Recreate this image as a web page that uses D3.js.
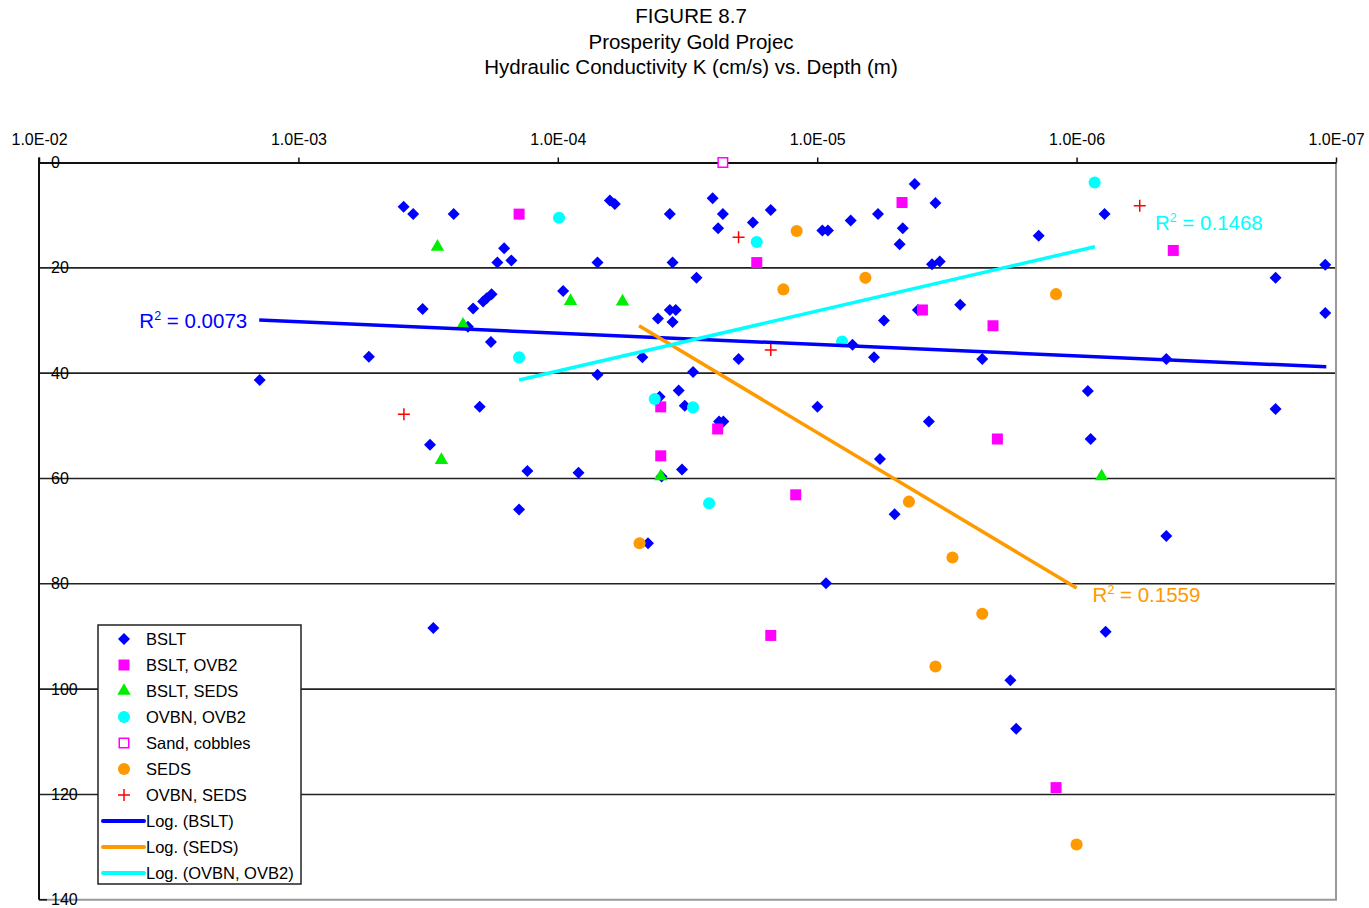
<!DOCTYPE html>
<html>
<head>
<meta charset="utf-8">
<script src="https://cdn.jsdelivr.net/npm/d3@7"></script>
<style>
  body { margin: 0; background: #fff; }
  svg { font-family: Arial, "Liberation Sans", sans-serif; }
</style>
</head>
<body>
<svg id="chart" width="1369" height="908"></svg>
<script>
// values: K in cm/s, depth in m
var bsltK = [1.41e-3,5.35e-4,3.93e-4,3.61e-4,2.52e-4,3.32e-4,3.11e-4,3.02e-4,2.12e-4,2.00e-4,
  1.94e-4,1.88e-4,1.80e-4,2.22e-4,1.81e-4,1.71e-4,1.61e-4,1.51e-4,9.54e-5,7.03e-5,
  6.30e-5,6.03e-5,3.70e-5,3.61e-5,2.92e-5,2.53e-5,2.31e-5,2.41e-5,1.77e-5,1.51e-5,
  9.55e-6,9.09e-6,7.43e-6,5.83e-6,3.70e-5,3.51e-5,4.11e-5,3.61e-5,4.72e-5,2.01e-5,
  7.31e-6,6.04e-6,5.53e-6,7.03e-5,3.01e-5,3.42e-5,4.05e-5,3.24e-5,9.98e-6,2.39e-5,
  2.30e-5,1.31e-4,8.32e-5,3.32e-5,3.98e-5,1.41e-4,4.49e-5,9.25e-6,5.73e-6,5.03e-6,
  4.21e-6,3.50e-6,4.68e-6,4.81e-6,3.61e-6,3.37e-6,7.80e-7,1.40e-6,1.10e-7,1.71e-7,
  1.10e-7,4.09e-6,2.81e-6,2.31e-6,4.51e-7,9.05e-7,1.71e-7,3.71e-6,8.83e-7,4.51e-7,
  7.73e-7,1.80e-6,1.71e-6];
var bsltDepth = [41.3,36.9,8.4,9.8,9.8,27.8,53.6,88.4,27.7,46.4,
  26.4,25.8,25.0,31.2,34.1,19.0,16.3,18.6,24.4,19.0,
  7.2,7.9,9.8,19.0,21.9,6.8,9.8,12.5,11.4,9.0,
  12.9,12.9,11.0,9.8,28.0,28.0,29.6,30.3,37.0,37.3,
  34.6,37.0,30.0,40.3,39.8,43.3,44.5,46.2,46.4,49.2,
  49.2,58.6,58.9,58.3,59.6,65.9,72.3,79.9,56.3,66.8,
  4.1,7.7,12.5,15.5,19.3,18.8,9.8,13.9,19.4,21.9,
  28.6,28.0,27.0,37.3,37.3,43.4,46.8,49.2,52.5,70.9,
  89.1,98.3,107.5];

var bsltOvb2K = [1.41e-4,1.71e-5,4.71e-6,4.24e-7,3.93e-6,2.10e-6,4.01e-5,4.01e-5,2.42e-5,2.02e-6,1.21e-5,1.51e-5,1.20e-6];
var bsltOvb2Depth = [9.8,19.0,7.6,16.7,28.0,31.0,46.4,55.7,50.6,52.5,63.1,89.8,118.7];

var bsltSedsK = [2.91e-4,8.93e-5,5.63e-5,2.32e-4,2.81e-4,4.01e-5,8.01e-7];
var bsltSedsDepth = [16.0,26.3,26.4,30.8,56.5,59.6,59.6];

var ovbnOvb2K = [9.89e-5,1.71e-5,1.41e-4,8.02e-6,4.23e-5,3.01e-5,2.61e-5,8.52e-7];
var ovbnOvb2Depth = [10.5,15.1,37.0,34.0,44.9,46.5,64.7,3.8];

var sandK = [2.31e-5];
var sandDepth = [0];

var sedsK = [1.20e-5,1.35e-5,6.52e-6,1.20e-6,4.84e-5,4.43e-6,3.01e-6,2.31e-6,3.50e-6,1.00e-6];
var sedsDepth = [13.0,24.1,21.9,25.0,72.3,64.4,75.0,85.7,95.7,129.5];

var ovbnSedsK = [2.01e-5,1.51e-5,3.92e-4,5.71e-7];
var ovbnSedsDepth = [14.2,35.6,47.8,8.2];

// log trend line end points and their R squared labels
var trendBsltK = [1.416e-3,1.09e-7];
var trendBsltDepth = [29.9,38.8];
var trendSedsK = [4.86e-5,1.00e-6];
var trendSedsDepth = [31.0,80.8];
var trendOvbK = [1.41e-4,8.5e-7];
var trendOvbDepth = [41.3,16.0];

var xTicks = [1e-2,1e-3,1e-4,1e-5,1e-6,1e-7];
var yTicks = [0,20,40,60,80,100,120,140];
var titleLines = ["FIGURE 8.7","Prosperity Gold Projec","Hydraulic Conductivity K (cm/s) vs. Depth (m)"];

var pts = function(K, D){ return K.map(function(k,i){ return {k:k, d:D[i]}; }); };

var series = [
  {name:"BSLT", kind:"diamond", color:"#0000FF", data:pts(bsltK,bsltDepth)},
  {name:"BSLT, OVB2", kind:"square", color:"#FF00FF", data:pts(bsltOvb2K,bsltOvb2Depth)},
  {name:"BSLT, SEDS", kind:"triangle", color:"#00EE00", data:pts(bsltSedsK,bsltSedsDepth)},
  {name:"OVBN, OVB2", kind:"circle", color:"#00FFFF", data:pts(ovbnOvb2K,ovbnOvb2Depth)},
  {name:"Sand, cobbles", kind:"hollow", color:"#FF00FF", data:pts(sandK,sandDepth)},
  {name:"SEDS", kind:"circle", color:"#FF9900", data:pts(sedsK,sedsDepth)},
  {name:"OVBN, SEDS", kind:"cross", color:"#FF0000", data:pts(ovbnSedsK,ovbnSedsDepth)}
];
var trends = [
  {name:"Log. (BSLT)", color:"#0000FF", data:pts(trendBsltK,trendBsltDepth), r2:"0.0073", lab:"end", at:0, dx:-12, dy:8},
  {name:"Log. (SEDS)", color:"#FF9900", data:pts(trendSedsK,trendSedsDepth), r2:"0.1559", lab:"start", at:1, dx:16, dy:14},
  {name:"Log. (OVBN, OVB2)", color:"#00FFFF", data:pts(trendOvbK,trendOvbDepth), r2:"0.1468", lab:"start", at:1, dx:60, dy:-17}
];

var svg = d3.select("#chart");
var x = d3.scaleLog().domain([1e-2,1e-7]).range([39,1336]);
var y = d3.scaleLinear().domain([0,140]).range([162.5,899.8]);

// title
svg.append("g").selectAll("text").data(titleLines).enter().append("text")
  .attr("x", 691).attr("y", function(d,i){ return 23 + i*25.5; })
  .attr("text-anchor","middle").attr("font-size", 20.5).text(function(d){ return d; });

// grid lines
svg.append("g").selectAll("line").data(yTicks.slice(1,-1)).enter().append("line")
  .attr("x1", x(1e-2)).attr("x2", x(1e-7))
  .attr("y1", function(d){ return y(d); }).attr("y2", function(d){ return y(d); })
  .attr("stroke","#222").attr("stroke-width",1.6);

// right and bottom frame
svg.append("path")
  .attr("d","M"+x(1e-7)+","+y(0)+"V"+y(140)+"H"+x(1e-2))
  .attr("fill","none").attr("stroke","#999").attr("stroke-width",2);

// top axis
var fmt = function(d){ var e = Math.round(-Math.log10(d)); return "1.0E-" + (e<10?"0":"") + e; };
var topAxis = svg.append("g").attr("transform","translate(0,"+y(0)+")")
  .call(d3.axisTop(x).tickValues(xTicks).tickFormat(fmt).tickSizeInner(5).tickSizeOuter(0).tickPadding(13));
topAxis.select(".domain").attr("stroke","#111").attr("stroke-width",2);
topAxis.selectAll(".tick line").attr("stroke","#111").attr("stroke-width",1.5);
topAxis.selectAll("text").attr("font-size",16).attr("font-family","Arial, Liberation Sans, sans-serif").attr("fill","#000");

// left axis, labels sit inside the plot
var leftAxis = svg.append("g").attr("transform","translate("+x(1e-2)+",0)")
  .call(d3.axisRight(y).tickValues(yTicks).tickSize(0).tickPadding(12));
leftAxis.select(".domain").remove();
leftAxis.selectAll("text").attr("font-size",16).attr("font-family","Arial, Liberation Sans, sans-serif").attr("fill","#000");
svg.append("line").attr("x1",x(1e-2)).attr("x2",x(1e-2)).attr("y1",y(0)-5).attr("y2",y(140))
  .attr("stroke","#111").attr("stroke-width",2);
svg.append("line").attr("x1",x(1e-2)).attr("x2",x(1e-2)+8).attr("y1",y(140)).attr("y2",y(140))
  .attr("stroke","#111").attr("stroke-width",1.5);

// marker drawing
function marker(g, kind, color){
  if (kind == "diamond") {
    g.append("path").attr("d", d3.symbol(d3.symbolSquare, 72)()).attr("transform","rotate(45)").attr("fill",color);
  } else if (kind == "square") {
    g.append("path").attr("d", d3.symbol(d3.symbolSquare, 121)()).attr("fill",color);
  } else if (kind == "hollow") {
    g.append("path").attr("d", d3.symbol(d3.symbolSquare, 90)()).attr("fill","#fff").attr("stroke",color).attr("stroke-width",1.5);
  } else if (kind == "triangle") {
    g.append("path").attr("d", d3.symbol(d3.symbolTriangle, 78)()).attr("fill",color);
  } else if (kind == "circle") {
    g.append("path").attr("d", d3.symbol(d3.symbolCircle, 115)()).attr("fill",color);
  } else if (kind == "cross") {
    g.append("path").attr("d","M-6,0H6M0,-6V6").attr("stroke",color).attr("stroke-width",1.5);
  }
}

var plot = svg.append("g");
series.forEach(function(s){
  plot.append("g").selectAll("g").data(s.data).enter().append("g")
    .attr("transform", function(d){ return "translate("+x(d.k)+","+y(d.d)+")"; })
    .each(function(){ marker(d3.select(this), s.kind, s.color); });
});

// trend lines
var line = d3.line().x(function(d){ return x(d.k); }).y(function(d){ return y(d.d); });
trends.forEach(function(t){
  plot.append("path").datum(t.data).attr("d", line)
    .attr("fill","none").attr("stroke",t.color).attr("stroke-width",3.5);
  var p = t.data[t.at];
  var lab = plot.append("text")
    .attr("x", x(p.k) + t.dx).attr("y", y(p.d) + t.dy)
    .attr("text-anchor", t.lab).attr("font-size",20.5).attr("fill",t.color);
  lab.append("tspan").text("R");
  lab.append("tspan").attr("font-size",12.5).attr("dy",-8).text("2");
  lab.append("tspan").attr("dy",8).text(" = " + t.r2);
});

// legend
var lg = svg.append("g").attr("transform","translate(98,625)");
lg.append("rect").attr("width",203).attr("height",259).attr("fill","#fff").attr("stroke","#222").attr("stroke-width",1.5);
var rows = series.map(function(s){ return {name:s.name, s:s}; })
  .concat(trends.map(function(t){ return {name:t.name, t:t}; }));
rows.forEach(function(r,i){
  var ry = 14 + i*26;
  if (r.s) {
    var g = lg.append("g").attr("transform","translate(26,"+ry+")");
    marker(g, r.s.kind, r.s.color);
  } else {
    lg.append("line").attr("x1",5).attr("x2",46).attr("y1",ry).attr("y2",ry)
      .attr("stroke",r.t.color).attr("stroke-width",4).attr("stroke-linecap","round");
  }
  lg.append("text").attr("x",48).attr("y",ry).attr("dy","0.35em")
    .attr("font-size",16.5).text(r.name);
});
</script>
</body>
</html>
